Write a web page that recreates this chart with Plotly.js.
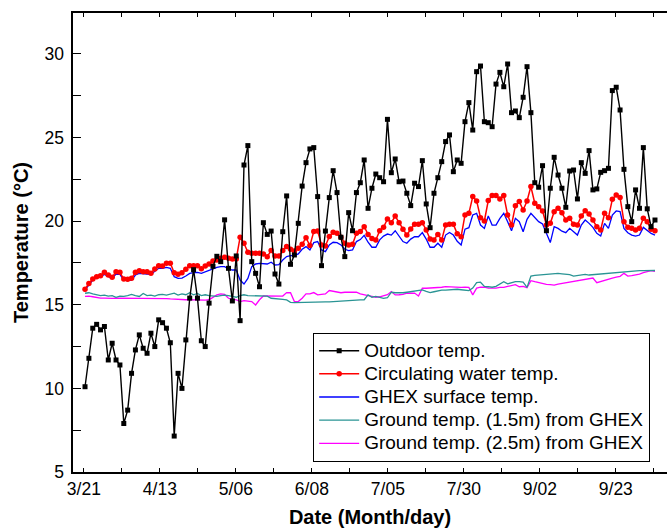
<!DOCTYPE html>
<html>
<head>
<meta charset="utf-8">
<script src="https://cdn.plot.ly/plotly-3.0.1.min.js"></script>
<style>html,body{margin:0;padding:0;background:#fff;}#chart{width:667px;height:530px;}</style>
</head>
<body>
<div id="chart"></div>
<script>
// Tick labels (Month/day) and their positions along the sample index
var tickLabels = ['3/21','4/13','5/06','6/08','7/05','7/30','9/02','9/23'];
var tickPositions = [-0.3, 19.3, 38.9, 58.5, 78.1, 97.7, 117.3, 136.9];
var minorTickPositions = [9.5, 29.1, 48.7, 68.3, 87.9, 107.5, 127.1, 146.7];

var outdoorTemp = [10.1,11.8,13.6,13.83,13.5,13.7,11.7,12.7,11.7,11.4,
7.9,8.7,10.9,12.3,13.2,12.4,12.1,13.3,12.5,14.1,
13.93,13.6,12.73,7.15,10.9,10.0,12.9,15.4,17.1,15.4,
12.85,12.5,15.1,17.3,17.9,17.58,20.08,17.18,15.23,17.92,
14.05,23.36,24.52,17.58,16.88,16.08,19.91,19.21,19.41,16.84,
16.24,19.37,21.51,17.42,17.98,19.87,22.1,23.5,24.32,24.4,
21.47,17.34,19.41,21.41,23.02,21.71,19.04,17.88,20.51,19.43,
21.71,22.3,23.66,20.77,21.97,22.82,22.6,22.36,26.09,22.9,
23.72,22.36,22.4,21.67,20.93,22.27,22.07,23.62,21.03,19.61,
21.67,22.6,23.56,24.76,25.16,22.96,23.66,23.46,25.95,27.09,
25.45,28.94,29.28,25.95,25.89,25.65,28.2,28.9,28.04,29.4,
26.49,26.59,26.19,27.41,29.24,26.49,22.3,22.03,23.32,19.43,
21.97,23.82,22.76,21.97,20.83,23.0,23.06,21.33,23.5,22.86,
24.22,21.87,21.93,22.92,23.02,23.16,27.81,28.01,26.65,23.1,
20.87,19.97,21.87,20.77,24.4,20.74,19.67,20.07];

var waterTemp = [15.93,16.28,16.54,16.68,16.74,16.94,16.78,16.64,16.98,16.94,
16.54,16.52,16.58,16.94,17.04,16.98,16.98,16.88,17.14,17.34,
17.32,17.48,17.48,16.92,16.82,16.92,17.12,17.34,17.34,17.34,
17.16,17.32,17.44,17.62,17.68,17.78,17.84,17.78,17.74,17.74,
19.04,18.68,18.14,18.08,18.08,18.08,18.04,17.88,18.24,17.92,
17.92,18.24,18.48,18.32,18.22,18.38,18.62,19.01,18.54,19.38,
19.41,18.58,18.52,19.08,19.34,19.28,19.04,18.68,18.58,18.62,
19.28,19.38,19.67,19.21,18.97,18.87,19.43,19.63,20.13,19.91,
20.31,19.91,19.52,19.17,19.53,19.81,19.81,19.91,19.47,18.93,
18.88,19.21,18.88,19.77,19.81,19.81,19.25,19.07,20.37,20.47,
21.47,21.21,20.21,20.01,21.23,21.53,21.53,21.33,21.53,20.37,
19.77,20.93,21.17,20.67,21.21,22.07,21.07,20.87,20.61,19.77,
19.87,20.57,20.77,20.5,20.07,20.17,19.81,19.77,20.31,20.63,
20.43,20.07,19.67,19.47,20.47,20.21,21.31,21.57,21.41,19.97,
19.63,19.57,19.47,19.57,20.17,19.97,19.52,19.43];

var ghexSurfaceTemp = [15.9,16.18,16.48,16.62,16.68,16.82,16.68,16.58,16.84,16.82,
16.48,16.44,16.48,16.78,16.88,16.88,16.84,16.82,16.98,17.18,
17.18,17.24,17.18,16.68,16.58,16.6,16.72,16.88,16.92,16.94,
16.88,16.98,17.08,17.18,17.24,17.28,17.28,17.14,17.08,17.08,
16.48,16.24,16.58,17.28,17.44,17.48,17.48,17.44,17.55,17.38,
17.4,17.68,17.88,17.94,17.94,18.04,18.32,18.48,18.28,18.72,
18.78,18.28,18.18,18.58,18.74,18.72,18.58,18.32,18.24,18.28,
18.78,18.9,19.15,18.74,18.44,18.44,18.88,19.11,19.23,19.17,
19.43,19.11,18.78,18.68,18.93,19.07,19.07,19.32,18.93,18.44,
18.44,18.68,18.44,19.17,19.32,19.17,18.8,18.58,19.52,19.61,
20.37,20.47,19.77,19.57,20.31,19.77,19.77,20.17,20.47,19.97,
19.43,20.17,19.97,19.37,20.11,20.47,20.23,19.97,19.83,19.31,
18.72,19.67,19.57,19.4,19.31,19.57,19.37,19.17,19.77,20.07,
19.87,19.63,19.27,19.11,19.87,19.57,20.37,20.61,20.57,19.57,
19.31,19.17,19.11,19.17,19.63,19.47,19.27,19.17];

var ground15Temp = [15.69,15.72,15.65,15.6,15.55,15.58,15.52,15.55,15.45,15.52,
15.5,15.55,15.62,15.55,15.5,15.68,15.55,15.58,15.52,15.6,
15.62,15.58,15.62,15.7,15.58,15.65,15.6,15.72,15.6,15.68,
15.55,15.6,15.55,15.52,15.5,15.55,15.58,15.55,15.5,15.45,
15.55,15.6,15.55,15.55,15.52,15.55,15.52,15.52,15.39,15.38,
15.35,15.32,15.29,15.15,15.13,15.13,15.14,15.13,15.14,15.15,
15.15,15.16,15.17,15.18,15.2,15.22,15.24,15.25,15.26,15.27,
15.28,15.29,15.3,15.59,15.45,15.5,15.45,15.39,15.42,15.75,
15.72,15.7,15.72,15.75,15.78,15.85,15.88,15.89,15.8,15.73,
15.78,15.83,15.88,15.88,15.9,15.93,15.93,15.9,15.88,15.85,
16.0,16.32,16.35,16.1,16.08,16.05,16.1,16.24,16.38,16.25,
16.3,16.38,16.38,16.35,16.04,16.72,16.76,16.78,16.8,16.82,
16.85,16.86,16.88,16.85,16.82,16.8,16.72,16.76,16.8,16.82,
16.78,16.8,16.83,16.86,16.88,16.9,16.92,16.95,16.98,16.98,
17.0,17.0,17.02,17.04,17.04,17.04,17.04,17.05];

var ground25Temp = [15.5,15.52,15.48,15.42,15.4,15.4,15.38,15.38,15.4,15.4,
15.38,15.38,15.38,15.37,15.37,15.37,15.37,15.36,15.36,15.36,
15.37,15.37,15.35,15.33,15.32,15.3,15.3,15.3,15.29,15.29,
15.29,15.28,15.3,15.45,15.59,15.65,15.62,15.39,15.35,15.3,
15.19,15.25,15.22,15.19,14.99,15.3,15.53,15.53,15.5,15.5,
15.5,15.52,15.73,15.72,15.19,15.19,15.39,15.65,15.65,15.73,
15.59,15.6,15.65,15.85,15.8,15.75,15.72,15.75,15.75,15.72,
15.75,15.65,15.62,15.55,15.5,15.45,15.48,15.55,15.6,15.79,
15.59,15.6,15.62,15.69,15.7,15.7,15.53,15.99,15.99,16.0,
16.0,16.02,16.05,16.09,16.07,16.07,16.06,16.04,16.05,16.04,
15.59,16.0,16.05,16.05,16.0,15.98,16.0,16.04,16.04,16.1,
16.14,16.2,16.08,16.1,16.02,16.44,16.38,16.32,16.28,16.22,
16.2,16.18,16.24,16.28,16.32,16.36,16.4,16.45,16.5,16.55,
16.58,16.6,16.32,16.4,16.48,16.55,16.6,16.66,16.7,16.88,
16.72,16.74,16.78,16.84,16.92,16.98,17.04,17.0];

var seriesNames = ['Outdoor temp.','Circulating water temp.','GHEX surface temp.',
  'Ground temp. (1.5m) from GHEX','Ground temp. (2.5m) from GHEX'];

var sampleIndex = outdoorTemp.map(function(_, i){ return i; });

var FONT = '"Liberation Sans", Arial, sans-serif';
function legendLabel(s){ return '<span style="font-size:19px">' + s + '</span>'; }

var traces = [
  {x: sampleIndex, y: ground25Temp, name: legendLabel(seriesNames[4]), mode: 'lines', legendrank: 5,
   line: {color: '#ff00ff', width: 1.3}},
  {x: sampleIndex, y: ground15Temp, name: legendLabel(seriesNames[3]), mode: 'lines', legendrank: 4,
   line: {color: '#2a9494', width: 1.3}},
  {x: sampleIndex, y: ghexSurfaceTemp, name: legendLabel(seriesNames[2]), mode: 'lines', legendrank: 3,
   line: {color: '#0000ff', width: 1.3}},
  {x: sampleIndex, y: waterTemp, name: legendLabel(seriesNames[1]), mode: 'lines+markers', legendrank: 2,
   line: {color: '#ff0000', width: 1.5}, marker: {symbol: 'circle', size: 5.5, color: '#ff0000'}},
  {x: sampleIndex, y: outdoorTemp, name: legendLabel(seriesNames[0]), mode: 'lines+markers', legendrank: 1,
   line: {color: '#000000', width: 1.4}, marker: {symbol: 'square', size: 5, color: '#000000'}}
];

var yTickVals = [5,7.5,10,12.5,15,17.5,20,22.5,25,27.5,30];
var yTickText = ['5','','10','','15','','20','','25','','30'];

var layout = {
  width: 667, height: 530,
  margin: {l: 73, r: 0, t: 13, b: 58},
  paper_bgcolor: '#ffffff', plot_bgcolor: '#ffffff',
  font: {family: FONT, color: '#000000'},
  showlegend: true,
  legend: {
    x: 0.404, y: 0.022, xanchor: 'left', yanchor: 'bottom',
    bgcolor: '#ffffff', bordercolor: '#000000', borderwidth: 1.2,
    font: {family: FONT, size: 15.5, color: '#000000'},
    tracegroupgap: 0, itemwidth: 40
  },
  xaxis: {
    range: [-3.1, 150.1],
    showgrid: false, zeroline: false,
    showline: true, linecolor: '#000000', linewidth: 1.6,
    mirror: 'allticks',
    ticks: 'inside', ticklen: 4, tickwidth: 1, tickcolor: '#000000',
    tickmode: 'array', tickvals: tickPositions, ticktext: tickLabels,
    tickfont: {family: FONT, size: 17.5, color: '#000000'},
    minor: {tickmode: 'array', tickvals: minorTickPositions, ticks: 'inside', ticklen: 4, tickwidth: 1, tickcolor: '#000000'},
    automargin: false,
    title: {text: '<b>Date (Month/day)</b>', font: {family: FONT, size: 20, color: '#000000'}, standoff: 12}
  },
  yaxis: {
    range: [5, 32.45],
    showgrid: false, zeroline: false,
    showline: true, linecolor: '#000000', linewidth: 1.6,
    ticks: 'inside', ticklen: 8, tickwidth: 1, tickcolor: '#000000',
    tickmode: 'array', tickvals: yTickVals, ticktext: yTickText,
    tickfont: {family: FONT, size: 17.5, color: '#000000'},
    ticklabelstandoff: 4,
    automargin: false,
    title: {text: '<b>Temperature (°C)</b>', font: {family: FONT, size: 20, color: '#000000'}, standoff: 10}
  }
};

Plotly.newPlot('chart', traces, layout, {displayModeBar: false, staticPlot: true});
</script>
</body>
</html>
